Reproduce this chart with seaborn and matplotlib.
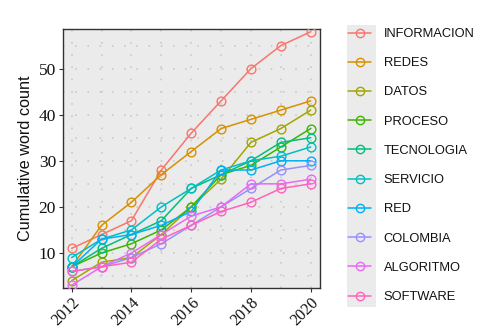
import matplotlib
matplotlib.use("Agg")
import matplotlib.pyplot as plt
from matplotlib.lines import Line2D
from matplotlib.patches import Rectangle
import numpy as np
import pandas as pd
import seaborn as sns

years = [2012, 2013, 2014, 2015, 2016, 2017, 2018, 2019, 2020]
terms = ["INFORMACION", "REDES", "DATOS", "PROCESO", "TECNOLOGIA",
         "SERVICIO", "RED", "COLOMBIA", "ALGORITMO", "SOFTWARE"]
colors = ["#F8766D", "#D89000", "#A3A500", "#39B600", "#00BF7D",
          "#00BFC4", "#00B0F6", "#9590FF", "#E76BF3", "#FF62BC"]

informacion = [11, 14, 17, 28, 36, 43, 50, 55, 58]
redes = [7, 16, 21, 27, 32, 37, 39, 41, 43]
datos = [4, 8, 9, 14, 20, 26, 34, 37, 41]
proceso = [7, 10, 12, 15, 20, 27, 29, 33, 37]
tecnologia = [7, 11, 14, 17, 24, 27, 30, 34, 35]
servicio = [9, 13, 15, 20, 24, 28, 30, 31, 33]
red = [7, 13, 14, 16, 19, 28, 28, 30, 30]
colombia = [6, 7, 9, 12, 16, 20, 24, 28, 29]
algoritmo = [3, 7, 10, 14, 18, 20, 25, 25, 26]
software = [6, 7, 8, 13, 16, 19, 21, 24, 25]

series = [informacion, redes, datos, proceso, tecnologia,
          servicio, red, colombia, algoritmo, software]

df = pd.DataFrame({
    "year": np.tile(years, len(terms)),
    "count": np.concatenate(series),
    "term": np.repeat(terms, len(years)),
})

sns.set_theme(style="white")
plt.rcParams["font.family"] = ["Liberation Sans", "DejaVu Sans"]

W, H = 495, 329
fig = plt.figure(figsize=(W / 100, H / 100), dpi=100)
ax = fig.add_axes([63 / W, 1 - 288 / H, (320 - 63) / W, (288 - 29) / H])
ax.set_facecolor("#EBEBEB")

# dotted grid at every year and every 5 counts
for yr in years:
    ax.axvline(yr, color="#C4C4C4", lw=1.1, ls=(0, (1, 7)), zorder=0)
for v in range(5, 60, 5):
    ax.axhline(v, color="#C4C4C4", lw=1.1, ls=(0, (1, 7)), zorder=0)

sns.lineplot(data=df, x="year", y="count", hue="term", hue_order=terms,
             palette=colors, marker="o", markersize=6.3, linewidth=1.1,
             legend=False, ax=ax, zorder=3)
for ln in ax.get_lines():
    if ln.get_marker() == "o":
        ln.set_markeredgecolor(ln.get_color())
        ln.set_markerfacecolor("none")
        ln.set_markeredgewidth(1.0)

ax.set_xlim(2011.71, 2020.31)
ax.set_ylim(2.4, 58.6)
ax.set_xticks([2012, 2014, 2016, 2018, 2020])
ax.set_yticks([10, 20, 30, 40, 50])
ax.set_xlabel("")
ax.set_ylabel("Cumulative word count", fontsize=11.7, color="#111111",
              family=["Liberation Sans", "DejaVu Sans"], labelpad=4)
ax.tick_params(axis="both", which="major", direction="out", length=3,
               width=0.8, color="#333333", labelcolor="#111111",
               bottom=True, left=True, pad=2)
for lab in ax.get_yticklabels():
    lab.set_family(["Liberation Serif", "DejaVu Serif"])
    lab.set_fontsize(12.5)
for lab in ax.get_xticklabels():
    lab.set_family(["Liberation Serif", "DejaVu Serif"])
    lab.set_fontsize(11.6)
    lab.set_rotation(45)
    lab.set_ha("right")
    lab.set_va("top")
    lab.set_rotation_mode("anchor")
for sp in ax.spines.values():
    sp.set_visible(True)
    sp.set_color("#333333")
    sp.set_linewidth(1.0)

# legend with grey key column
fig.patches.append(Rectangle((347 / W, 1 - 307 / H), 29 / W, 282 / H,
                             transform=fig.transFigure, facecolor="#EBEBEB",
                             edgecolor="none", zorder=0))
handles = [Line2D([0], [0], color=c, lw=1.1, marker="o", markersize=6,
                  markerfacecolor="none", markeredgecolor=c,
                  markeredgewidth=1.0) for c in colors]
leg = fig.legend(handles, terms, loc="upper left",
                 bbox_to_anchor=(348 / W, 1 - 28 / H), frameon=False,
                 fontsize=9.3, handlelength=1.8, handletextpad=0.95,
                 labelspacing=1.33, borderpad=0, borderaxespad=0)
for t in leg.get_texts():
    t.set_color("#111111")

fig.savefig("out.png", dpi=100)
